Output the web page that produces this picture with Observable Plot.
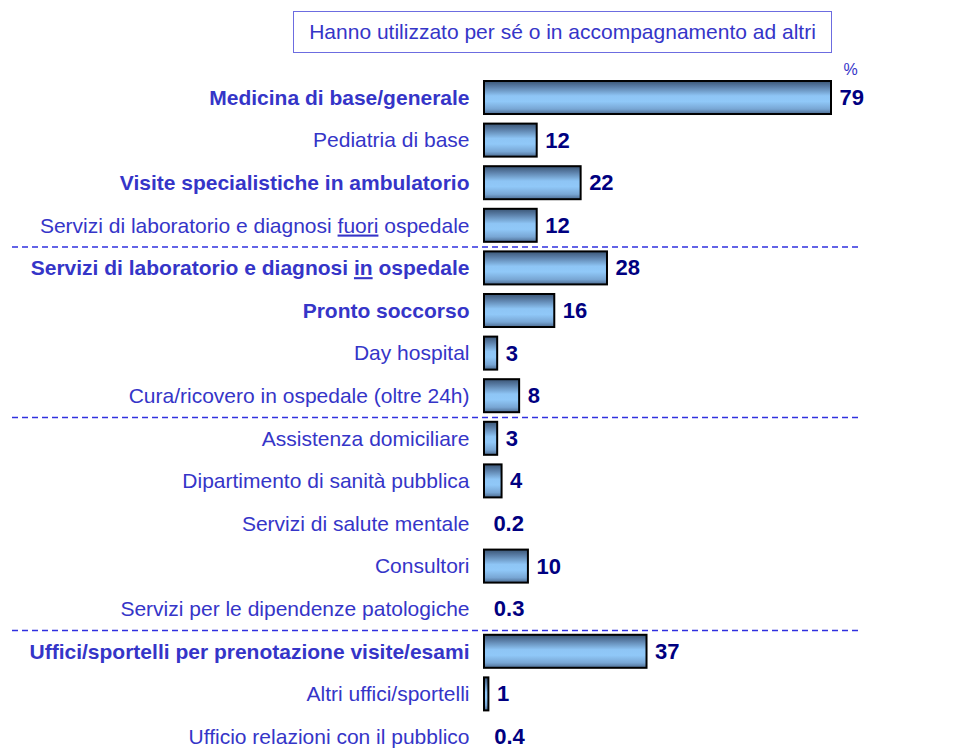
<!DOCTYPE html>
<html>
<head>
<meta charset="utf-8">
<script src="https://cdn.jsdelivr.net/npm/d3@7"></script>
<script src="https://cdn.jsdelivr.net/npm/@observablehq/plot@0.6"></script>
<style>
  html, body { margin: 0; padding: 0; background: #fff; }
  #wrap { position: relative; width: 973px; height: 748px; overflow: hidden; }
  #title {
    position: absolute; left: 293px; top: 11px; width: 539px; height: 42px;
    box-sizing: border-box; border: 1.5px solid #6c6ce0;
    font-family: "Liberation Sans", Arial, sans-serif; font-size: 21px; color: #3535c8;
    display: flex; align-items: center; justify-content: center; background: #fff;
  }
</style>
</head>
<body>
<div id="wrap">
  <div id="chart"></div>
  <div id="title">Hanno utilizzato per sé o in accompagnamento ad altri</div>
</div>
<script>
const categories = [
  "Medicina di base/generale",
  "Pediatria di base",
  "Visite specialistiche in ambulatorio",
  "Servizi di laboratorio e diagnosi fuori ospedale",
  "Servizi di laboratorio e diagnosi in ospedale",
  "Pronto soccorso",
  "Day hospital",
  "Cura/ricovero in ospedale (oltre 24h)",
  "Assistenza domiciliare",
  "Dipartimento di sanità pubblica",
  "Servizi di salute mentale",
  "Consultori",
  "Servizi per le dipendenze patologiche",
  "Uffici/sportelli per prenotazione visite/esami",
  "Altri uffici/sportelli",
  "Ufficio relazioni con il pubblico"
];
const values = [79, 12, 22, 12, 28, 16, 3, 8, 3, 4, 0.2, 10, 0.3, 37, 1, 0.4];
const boldRows = [true, false, true, false, true, true, false, false, false, false, false, false, false, true, false, false];
const underlinedWords = ["", "", "", "fuori", "in", "", "", "", "", "", "", "", "", "", "", ""];
const groupStarts = [
  "Servizi di laboratorio e diagnosi in ospedale",
  "Assistenza domiciliare",
  "Uffici/sportelli per prenotazione visite/esami"
];
const unitLabel = "%";

const data = categories.map((c, i) => ({cat: c, value: values[i], bold: boldRows[i], u: underlinedWords[i]}));
const font = "'Liberation Sans', Arial, sans-serif";
const labelColor = "#3535c8";
const valueColor = "#000080";
const step = 672 / (16 - 0.225);

const plot = Plot.plot({
  width: 973,
  height: 748,
  marginLeft: 12,
  marginRight: 113,
  marginTop: 0,
  marginBottom: 0,
  style: {fontFamily: font, background: "transparent"},
  x: {domain: [0, d3.max(values)], range: [484, 831], axis: null},
  y: {type: "band", domain: categories, range: [81, 753], paddingInner: 0.225, paddingOuter: 0, round: false, axis: null},
  marks: [
    Plot.ruleY(groupStarts, {y: d => d, dy: -step / 2, stroke: "#3030e0", strokeWidth: 1.5, strokeDasharray: "6,4"}),
    Plot.barX(data.filter(d => d.value >= 0.5), {x1: 0, x2: "value", y: "cat", fill: "url(#barGrad)", stroke: "#000", strokeWidth: 2}),
    Plot.text(data.filter(d => d.bold), {x: 0, y: "cat", text: "cat", dx: -15, textAnchor: "end", fill: labelColor, fontSize: 21, fontWeight: "bold", fontFamily: font}),
    Plot.text(data.filter(d => !d.bold), {x: 0, y: "cat", text: "cat", dx: -15, textAnchor: "end", fill: labelColor, fontSize: 21, fontFamily: font}),
    Plot.text(data, {x: "value", y: "cat", text: d => String(d.value), dx: 8, textAnchor: "start", fill: valueColor, fontSize: 22, fontWeight: "bold", fontFamily: font}),
    Plot.text([{label: unitLabel, x: d3.max(values), cat: categories[0]}], {x: "x", y: "cat", text: "label", dx: 19, dy: -28, textAnchor: "middle", fill: labelColor, fontSize: 16, fontFamily: font})
  ]
});

// gradient for bars
const svg = d3.select(plot);
const defs = svg.insert("defs", ":first-child");
const g = defs.append("linearGradient").attr("id", "barGrad").attr("x1", 0).attr("y1", 0).attr("x2", 0).attr("y2", 1);
[[0, "#3a5575"], [0.18, "#5b7fa8"], [0.45, "#8ec5f5"], [0.62, "#90c8f8"], [0.85, "#78a6d4"], [1, "#4c6b90"]]
  .forEach(([o, c]) => g.append("stop").attr("offset", o).attr("stop-color", c));

// underline specific words in labels
data.filter(d => d.u).forEach(d => {
  svg.selectAll("text").each(function() {
    if (this.textContent !== d.cat) return;
    const re = new RegExp("\\b" + d.u + "\\b");
    const m = re.exec(d.cat);
    if (!m) return;
    const before = d.cat.slice(0, m.index), after = d.cat.slice(m.index + d.u.length);
    const t = d3.select(this);
    t.text(null);
    t.append("tspan").text(before);
    t.append("tspan").style("text-decoration", "underline").text(d.u);
    t.append("tspan").text(after);
  });
});

document.getElementById("chart").appendChild(plot);
</script>
</body>
</html>
